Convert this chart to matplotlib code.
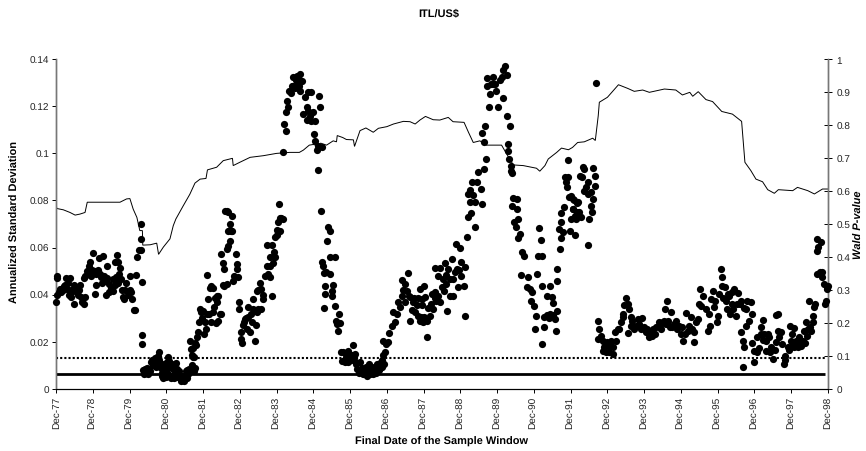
import matplotlib
matplotlib.use("Agg")
import matplotlib.pyplot as plt

plt.rcParams['font.family'] = ['Liberation Sans', 'DejaVu Sans']
plt.rcParams['text.hinting'] = 'none'
plt.rcParams['text.hinting_factor'] = 1

TITLE = "ITL/US$"
XLABEL = "Final Date of the Sample Window"
YLABEL_L = "Annualized Standard Deviation"
YLABEL_R = "Wald P-value"
year_labels = [f"Dec-{y}" for y in range(77, 99)]
left_ticks = [0, 0.02, 0.04, 0.06, 0.08, 0.1, 0.12, 0.14]
right_ticks = [0, 0.1, 0.2, 0.3, 0.4, 0.5, 0.6, 0.7, 0.8, 0.9, 1]
solid_level = 0.0064
dotted_level = 0.0132

# Wald p-value line: (years after Dec-77, p-value)
wald = [(0,.57),(.02,.547),(.2,.543),(.38,.535),(.52,.527),(.65,.53),(.79,.535),(.85,.566),(1.2,.566),(1.74,.566),(1.92,.576),(2.01,.577),(2.1,.545),(2.2,.52),(2.28,.48),(2.35,.48),(2.36,.436),(2.56,.437),(2.74,.442),(2.79,.408),(2.92,.43),(3.1,.455),(3.19,.495),(3.26,.515),(3.46,.555),(3.64,.59),(3.78,.624),(3.92,.636),(4.08,.638),(4.12,.664),(4.37,.672),(4.55,.692),(4.8,.699),(4.82,.677),(5.0,.687),(5.28,.702),(5.64,.707),(6.0,.714),(6.36,.717),(6.62,.717),(6.73,.724),(6.89,.739),(7.0,.741),(7.1,.737),(7.2,.745),(7.36,.739),(7.54,.752),(7.63,.749),(7.65,.768),(7.8,.762),(7.9,.756),(8.09,.755),(8.12,.735),(8.27,.783),(8.43,.791),(8.63,.778),(8.77,.79),(9.0,.795),(9.18,.803),(9.45,.811),(9.63,.81),(9.77,.803),(9.9,.815),(10.05,.826),(10.26,.816),(10.44,.815),(10.67,.823),(10.8,.81),(11.1,.808),(11.22,.778),(11.35,.747),(11.53,.752),(11.71,.739),(12.12,.739),(12.26,.712),(12.44,.679),(12.71,.677),(13.07,.669),(13.16,.66),(13.3,.677),(13.39,.697),(13.62,.717),(13.75,.73),(13.94,.725),(14.05,.732),(14.19,.747),(14.37,.749),(14.6,.76),(14.67,.753),(14.75,.828),(14.78,.869),(15.0,.884),(15.3,.922),(15.55,.911),(15.73,.902),(15.96,.906),(16.14,.899),(16.55,.909),(16.86,.906),(17.04,.891),(17.24,.899),(17.32,.887),(17.47,.901),(17.68,.877),(17.86,.871),(18.11,.841),(18.4,.833),(18.65,.811),(18.74,.687),(18.9,.662),(19.04,.636),(19.22,.628),(19.36,.604),(19.54,.593),(19.65,.604),(20.04,.601),(20.17,.611),(20.45,.601),(20.63,.591),(20.85,.606),(21.0,.606)]

# Scatter values: (years after Dec-77, annualized standard deviation)
dots_77_79 = [(0,.037),(.03,.047),(.04,.048),(.03,.040),(.07,.041),(.10,.042),(.14,.041),(.18,.043),(.2,.042),(.25,.044),(.26,.047),(.33,.045),(.35,.040),(.38,.047),(.40,.039),(.45,.0415),(.48,.036),(.50,.044),(.55,.043),(.58,.041),(.62,.042),(.65,.044),(.68,.039),(.72,.037),(.77,.036),(.8,.039),(.75,.047),(.8,.048),(.85,.050),(.9,.052),(.93,.054),(.97,.0505),(1.0,.0575),(1.05,.0405),(1.05,.050),(1.1,.044),(1.15,.0505),(1.18,.0555),(1.2,.049),(1.25,.045),(1.28,.0565),(1.3,.048),(1.35,.040),(1.4,.052),(1.4,.047),(1.45,.041),(1.5,.043),(1.55,.0415),(1.6,.054),(1.63,.0475),(1.65,.057),(1.7,.054),(1.72,.049),(1.7,.045),(1.75,.0515),(1.8,.042),(1.82,.039),(1.85,.038),(1.9,.045),(1.95,.04),(2.0,.048),(2.0,.042),(2.05,.041),(2.08,.038),(2.12,.0335),(2.15,.0335),(2.17,.0485),(2.2,.056),(2.25,.059),(2.3,.07),(2.3,.0635),(2.3,.059),(2.33,.0455),(2.33,.023),(2.35,.019),(1.1,.049),(1.22,.0475),(1.35,.046),(1.45,.0445),(1.55,.0465),(1.68,.047),(1.6,.044),(.95,.048),(1.02,.0495),(.92,.049),(.12,.0425),(.22,.0435),(.3,.0425),(.42,.042),(.6,.04),(1.78,.0465),(1.88,.042)]
dots_79_81 = [(2.38,.008),(2.40,.0065),(2.42,.0085),(2.45,.007),(2.47,.009),(2.50,.0065),(2.52,.0085),(2.55,.0075),(2.58,.0115),(2.60,.0125),(2.63,.010),(2.65,.012),(2.68,.011),(2.70,.013),(2.72,.0095),(2.75,.013),(2.78,.014),(2.80,.0155),(2.80,.0125),(2.83,.011),(2.85,.009),(2.87,.007),(2.88,.0055),(2.90,.0045),(2.92,.0065),(2.93,.0085),(2.95,.0105),(2.97,.0075),(3.00,.005),(3.02,.0085),(3.03,.0115),(3.05,.0135),(3.05,.0065),(3.08,.012),(3.10,.0095),(3.12,.0045),(3.15,.0055),(3.17,.0085),(3.20,.0045),(3.22,.0105),(3.25,.007),(3.27,.011),(3.30,.0085),(3.32,.005),(3.35,.0075),(3.38,.0045),(3.40,.0035),(3.43,.0055),(3.45,.0045),(3.48,.0035),(3.50,.0055),(3.53,.0075),(3.55,.0045),(3.57,.008),(3.60,.0065),(3.63,.0085),(3.65,.0075),(3.68,.0085),(3.70,.010),(3.73,.0085),(3.75,.0075),(3.78,.009)]
dots_81_82 = [(3.64,.0205),(3.66,.017),(3.7,.0145),(3.73,.0135),(3.76,.0135),(3.72,.0175),(3.78,.0195),(3.83,.0219),(3.86,.024),(3.82,.0185),(3.9,.0285),(3.92,.034),(3.95,.0325),(3.98,.03),(4.0,.033),(4.03,.0235),(4.06,.0285),(4.08,.0255),(4.1,.032),(4.12,.0484),(4.14,.038),(4.19,.043),(4.22,.0435),(4.28,.043),(4.17,.032),(4.22,.0285),(4.26,.0325),(4.3,.035),(4.33,.0385),(4.37,.037),(4.42,.0396),(4.39,.0395),(4.35,.028),(4.42,.029),(4.46,.032),(4.5,.032),(4.5,.0573),(4.55,.0535),(4.57,.051),(4.55,.044),(4.58,.0438),(4.64,.0445),(4.64,.0594),(4.69,.0605),(4.73,.063),(4.69,.067),(4.73,.07),(4.78,.0735),(4.69,.075),(4.6,.0757),(4.65,.0755),(4.78,.067),(4.9,.0573),(4.91,.053),(4.91,.051),(4.85,.048),(4.82,.046),(4.96,.0474),(4.76,.0672),(4.74,.0675)]
dots_82_83 = [(4.97,.0368),(4.99,.034),(5.03,.024),(5.02,.0212),(5.05,.0195),(5.1,.027),(5.14,.0297),(5.19,.0255),(5.23,.0304),(5.28,.024),(5.32,.0285),(5.23,.0346),(5.37,.034),(5.41,.0205),(5.44,.027),(5.35,.038),(5.46,.0325),(5.59,.034),(5.46,.0417),(5.55,.045),(5.59,.0424),(5.64,.038),(5.68,.048),(5.73,.0523),(5.82,.0523),(5.82,.0474),(5.87,.0396),(5.73,.061),(5.87,.061),(5.82,.056),(5.93,.058),(5.96,.056),(5.91,.0535),(5.96,.0643),(6.0,.0676),(6.09,.0672),(6.05,.0707),(6.09,.0724),(6.18,.072),(6.07,.0785),(5.12,.0285),(5.18,.03),(5.3,.032),(5.5,.034),(5.62,.04),(6.13,.0725),(6.02,.0655),(5.78,.049),(5.5,.042)]
dots_83_85 = [(6.18,.1007),(6.21,.1124),(6.25,.1096),(6.25,.1174),(6.32,.1195),(6.29,.1223),(6.35,.1266),(6.4,.1255),(6.46,.1287),(6.46,.1322),(6.53,.131),(6.55,.1329),(6.64,.1336),(6.59,.130),(6.68,.1308),(6.64,.1266),(6.77,.1237),(6.86,.1261),(6.95,.1261),(6.82,.1195),(6.73,.1167),(6.86,.1181),(6.82,.1141),(6.95,.1138),(7.0,.1174),(7.04,.1138),(7.15,.1241),(7.18,.1198),(7.02,.1082),(7.04,.1053),(7.14,.1032),(7.09,.1015),(7.23,.1025),(7.13,.0929),(7.21,.0757),(7.41,.0686),(7.45,.0672),(7.36,.063),(7.23,.0537),(7.27,.0523),(7.45,.056),(7.59,.056),(7.29,.0491),(7.45,.0488),(7.32,.0438),(7.54,.0443),(7.32,.0403),(7.52,.0417),(7.52,.0396),(7.29,.0342),(7.59,.0354),(7.71,.0318),(7.63,.029),(7.73,.028),(7.68,.0247),(6.5,.1275),(6.6,.1285),(6.58,.1325),(6.42,.1285),(6.9,.116),(7.35,.0495),(7.65,.0275)]
dots_85_86 = [(7.75,.0155),(7.95,.0163),(8.07,.0187),(8.13,.0148),(7.79,.012),(7.82,.0155),(7.88,.0135),(7.92,.0145),(7.98,.015),(8.02,.0125),(8.05,.0145),(7.85,.0115),(7.94,.0115),(8.0,.0138),(8.1,.0125),(8.16,.0105),(8.2,.0085),(8.24,.007),(8.28,.0115),(8.32,.009),(8.34,.0065),(8.38,.0075),(8.42,.0095),(8.45,.0057),(8.48,.0075),(8.52,.0105),(8.55,.0065),(8.58,.0085),(8.62,.0062),(8.66,.0095),(8.7,.0068),(8.74,.0105),(8.78,.008),(8.8,.0088),(8.83,.0115),(8.86,.0125),(8.88,.0095),(8.92,.0105)]
dots_86_89 = [(8.9,.0145),(8.95,.0158),(8.9,.0205),(9.04,.0198),(8.98,.019),(9.07,.0238),(9.13,.0269),(9.22,.0283),(9.18,.0325),(9.28,.0318),(9.31,.0368),(9.4,.0396),(9.36,.035),(9.49,.0368),(9.42,.0464),(9.49,.0445),(9.58,.0492),(9.54,.0417),(9.63,.0389),(9.63,.0287),(9.72,.0368),(9.77,.0325),(9.86,.0311),(9.9,.0424),(9.95,.0382),(10.02,.0438),(10.05,.0389),(9.9,.029),(9.99,.0283),(10.08,.029),(10.17,.0311),(10.26,.034),(10.08,.0219),(10.22,.0403),(10.31,.041),(10.4,.0481),(10.31,.0513),(10.44,.0512),(10.35,.0375),(10.44,.0368),(10.53,.0467),(10.49,.0431),(10.58,.0535),(10.64,.0332),(10.67,.0509),(10.71,.0396),(10.8,.0396),(10.76,.0551),(10.8,.0467),(10.88,.0615),(10.99,.0597),(11.03,.0537),(11.12,.0516),(10.94,.0434),(11.09,.0436),(11.03,.0481),(10.9,.0509),(11.12,.0308),(11.17,.0643),(11.4,.0689),(11.2,.0728),(11.2,.0827),(11.31,.0877),(11.3,.0745),(11.26,.0792),(11.4,.0792),(11.44,.0877),(11.58,.0785),(11.56,.0848),(11.49,.0922),(11.63,.0933),(11.7,.0976),(11.64,.1046),(11.58,.1086),(11.67,.1117),(11.78,.1198),(12.03,.1195),(11.81,.1251),(11.72,.1318),(11.73,.1287),(11.88,.1322),(11.97,.1266),(11.88,.1295),(12.07,.131),(12.22,.1372),(12.17,.1355),(12.26,.1332),(12.17,.1234),(12.28,.1157),(12.35,.1117),(12.29,.1039),(12.29,.1011),(12.33,.0976),(12.38,.0947),(12.38,.0926),(12.41,.0916),(9.45,.042),(9.6,.0395),(9.68,.0335),(9.82,.0355),(9.95,.0355),(10.12,.0345),(10.4,.0395),(10.55,.0415),(10.62,.0485),(10.72,.0465),(10.85,.0495),(9.75,.0385),(9.85,.0385),(10.2,.036),(10.3,.0385),(10.6,.0445),(10.95,.0505),(9.92,.0305),(10.02,.0305),(11.35,.0825),(11.25,.0845),(11.82,.1295),(11.95,.1295),(12.12,.1325)]
dots_89_91 = [(12.44,.0809),(12.55,.0806),(12.41,.0778),(12.55,.0764),(12.58,.0721),(12.47,.0707),(12.5,.0686),(12.62,.0658),(12.58,.0641),(12.67,.058),(12.73,.0563),(12.65,.0484),(12.85,.0474),(12.8,.0431),(12.89,.0424),(12.96,.041),(13.09,.0488),(13.15,.0683),(13.19,.0633),(13.12,.0566),(13.21,.0566),(12.92,.0372),(13.0,.0354),(13.05,.0311),(13.03,.0255),(13.28,.0262),(13.23,.0191),(13.6,.0247),(13.21,.0436),(13.44,.0438),(13.35,.0396),(13.48,.0389),(13.53,.0365),(13.28,.0305),(13.35,.0312),(13.44,.0318),(13.53,.0312),(13.62,.0332),(13.4,.03),(13.57,.0295),(13.64,.0509),(13.64,.046),(13.71,.0594),(13.69,.0679),(13.75,.0707),(13.8,.0667),(13.75,.0641),(13.73,.0745),(13.83,.0773),(13.94,.0973),(13.85,.0898),(13.94,.0898),(13.87,.0877),(13.91,.0858),(13.96,.0813),(14.07,.0806),(14.16,.0789),(14.07,.0764),(14.12,.0735),(14.16,.075),(14.0,.0721),(13.98,.0672),(14.12,.0655),(14.25,.0905)]
dots_91_92 = [(14.01,.082),(14.1,.08),(14.19,.0792),(14.05,.0764),(14.14,.0721),(14.28,.0728),(14.23,.075),(14.33,.094),(14.37,.0933),(14.3,.09),(14.46,.0877),(14.41,.0856),(14.37,.0842),(14.46,.0827),(14.55,.0834),(14.61,.0937),(14.66,.0905),(14.66,.086),(14.62,.0806),(14.55,.0778),(14.58,.075),(14.51,.0721),(14.48,.0611),(14.69,.1297)]
dots_92_94 = [(14.73,.0287),(14.78,.0255),(14.73,.0212),(14.82,.0226),(14.87,.0205),(14.87,.0163),(14.92,.0177),(14.96,.0155),(15.0,.0198),(15.05,.0184),(15.09,.0205),(15.05,.0155),(15.16,.0148),(15.14,.0177),(15.23,.0205),(15.21,.024),(15.28,.0255),(15.32,.0255),(15.37,.0283),(15.41,.0318),(15.5,.0386),(15.46,.0358),(15.55,.036),(15.6,.034),(15.55,.0236),(15.41,.0304),(15.64,.0304),(15.64,.0269),(15.68,.029),(15.77,.0269),(15.87,.0276),(15.94,.03),(16.0,.0262),(16.09,.0255),(16.18,.024),(16.14,.0219),(16.25,.0255),(16.32,.0262),(16.39,.0283),(16.46,.0255),(16.55,.029),(16.61,.0375),(16.56,.034),(16.73,.0325),(16.66,.029),(16.77,.0262),(16.86,.029),(16.95,.0269),(17.0,.0233),(17.06,.0205),(17.13,.0322),(17.23,.0269),(17.28,.0304),(17.36,.0198),(17.36,.024),(17.46,.0297),(15.72,.0255),(15.82,.0295),(15.9,.0255),(16.05,.024),(16.12,.0245),(16.2,.0225),(16.3,.0235),(16.42,.0265),(16.5,.0285),(16.6,.0275),(16.7,.0265),(16.82,.0275),(16.9,.0255),(17.02,.0262),(17.1,.0235),(17.18,.0245),(17.3,.0255),(17.42,.0285)]
dots_94_96 = [(17.53,.0424),(17.6,.0396),(17.49,.036),(17.55,.0354),(17.67,.034),(17.73,.0247),(17.8,.0269),(17.76,.0318),(17.86,.0417),(17.82,.0382),(17.91,.0346),(18.0,.0311),(17.97,.0283),(18.1,.0509),(18.13,.0474),(18.13,.0438),(18.04,.0403),(18.2,.0431),(18.22,.0375),(18.31,.0396),(18.4,.036),(18.45,.0424),(18.5,.0311),(18.56,.0407),(18.6,.036),(18.63,.024),(18.68,.0205),(18.71,.0177),(18.68,.0095),(18.77,.034),(18.81,.0375),(18.9,.0368),(18.77,.0269),(18.86,.029),(18.93,.0318),(18.93,.0195),(18.25,.034),(18.33,.032),(18.42,.034),(18.52,.036),(18.62,.0375),(18.72,.0345),(18.28,.0405),(18.38,.041),(18.15,.0385),(17.92,.0375)]
dots_96_98 = [(19.0,.0113),(19.0,.0163),(19.06,.0158),(19.06,.0219),(19.18,.0262),(19.22,.0293),(19.18,.0233),(19.31,.0205),(19.27,.0233),(19.4,.0219),(19.31,.0163),(19.45,.0177),(19.51,.0127),(19.58,.0198),(19.58,.0314),(19.65,.0318),(19.63,.0247),(19.72,.0243),(19.68,.0219),(19.81,.0106),(19.84,.0141),(19.76,.0191),(19.9,.0177),(19.97,.0266),(20.08,.0257),(20.03,.0233),(19.99,.0205),(20.08,.0177),(20.13,.0205),(20.22,.0219),(20.27,.0184),(20.33,.0205),(20.36,.0247),(20.4,.0283),(20.45,.0255),(20.49,.0375),(20.58,.0283),(20.6,.0311),(20.65,.036),(20.63,.0346),(20.71,.0488),(20.84,.0495),(20.71,.0587),(20.71,.0636),(20.8,.0622),(20.74,.0601),(20.84,.0474),(20.9,.0445),(20.97,.0431),(20.94,.0375),(20.92,.036),(21.0,.0438),(20.96,.0424),(19.12,.0175),(19.22,.021),(19.36,.0235),(19.42,.0155),(19.55,.0165),(19.84,.0125),(19.95,.0165),(20.05,.0195),(20.18,.018),(20.25,.02),(20.3,.0195),(20.38,.0195),(20.52,.0265),(20.55,.0245),(20.44,.0225),(20.78,.0495)]

all_dots = (dots_77_79 + dots_79_81 + dots_81_82 + dots_82_83 + dots_83_85 + dots_85_86
            + dots_86_89 + dots_89_91 + dots_91_92 + dots_92_94 + dots_94_96 + dots_96_98)

W, H = 866, 452
fig = plt.figure(figsize=(W / 100, H / 100), dpi=100, facecolor="white")
ax = fig.add_axes([56 / W, 1 - 390 / H, (828 - 56) / W, 330 / H])
ax2 = ax.twinx()

ax.set_xlim(0, 21)
ax.set_ylim(0, 0.14)
ax2.set_ylim(0, 1)

ax.set_zorder(ax2.get_zorder() + 1)
ax.patch.set_visible(False)

ax2.plot([p[0] for p in wald], [p[1] for p in wald], color="black", lw=0.7, solid_joinstyle="miter")
ax.plot([0, 20.93], [solid_level] * 2, color="black", lw=2.0, solid_capstyle="butt", zorder=2)
ax.plot([0, 20.93], [dotted_level] * 2, color="black", lw=1.5, ls=(0, (1, 1)), zorder=2)
ax.scatter([p[0] for p in all_dots], [p[1] for p in all_dots], s=27, color="black",
           linewidths=0, zorder=3, clip_on=False)

ax.set_xticks(range(len(year_labels)))
ax.set_xticklabels(year_labels, rotation=90, fontsize=7.4, color="#222222")
ax.set_yticks(left_ticks)
ax.set_yticklabels(["0", "0.02", "0.04", "0.06", "0.08", "0.1", "0.12", "0.14"], fontsize=7.4, color="#222222")
ax2.set_yticks(right_ticks)
ax2.set_yticklabels(["0", "0.1", "0.2", "0.3", "0.4", "0.5", "0.6", "0.7", "0.8", "0.9", "1"], fontsize=7.4, color="#222222")

ax.tick_params(axis="x", length=3, width=0.7, pad=2)
ax.tick_params(axis="y", length=3, width=0.7, pad=2)
ax2.tick_params(axis="y", direction="inout", length=6, width=0.7, pad=3)

for a in (ax, ax2):
    a.spines["top"].set_visible(False)
    a.spines["left"].set_color("#777777")
    a.spines["left"].set_linewidth(1.0)
    a.spines["right"].set_color("#777777")
    a.spines["right"].set_linewidth(1.0)
    a.spines["bottom"].set_color("black")
    a.spines["bottom"].set_linewidth(0.8)

fig.text(439 / W, 1 - 13 / H, TITLE, fontsize=7.6, fontweight="bold", ha="center", va="center")
fig.text(442 / W, 1 - 442 / H, XLABEL, fontsize=7.6, fontweight="bold", ha="center", va="center")
fig.text(15 / W, 1 - 222 / H, YLABEL_L, fontsize=7.6, fontweight="bold", rotation=90, ha="center", va="center")
fig.text(859 / W, 1 - 225 / H, YLABEL_R, fontsize=7.6, fontweight="bold", style="italic", rotation=90, ha="center", va="center")

fig.savefig("out.png", dpi=100)
